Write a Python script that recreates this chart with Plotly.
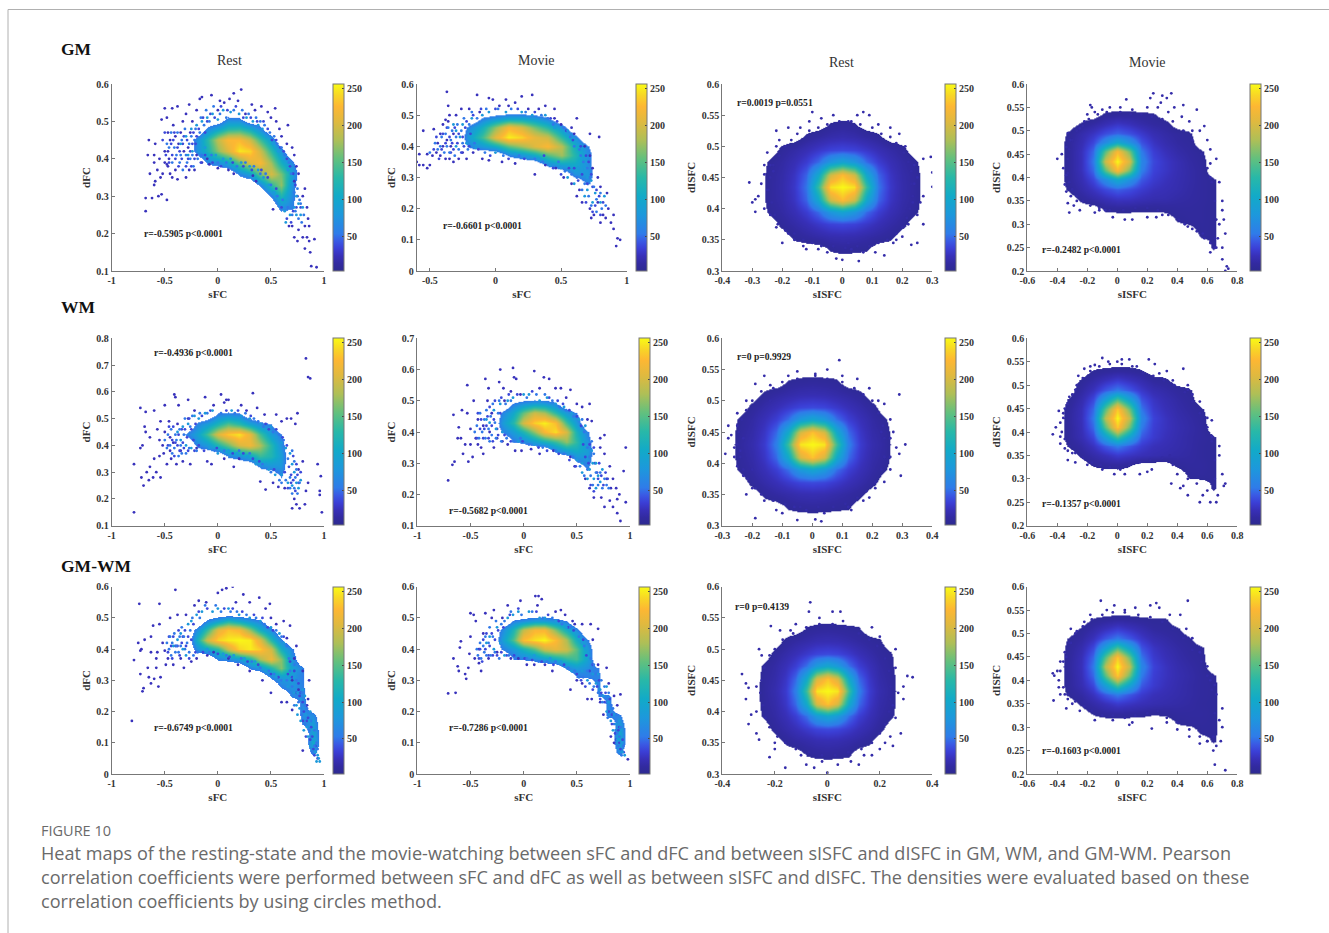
import plotly.graph_objects as go
from plotly.colors import sample_colorscale

W, H = 1329, 933
SERIF = "Liberation Serif"
SANS = "Open Sans"
PARULA = [[0, "#2d2a90"], [.04, "#322aa0"], [.08, "#3830b8"], [.12, "#3b3fd6"], [.16, "#3a5ae4"], [.2, "#2f7ce9"], [.3, "#1d98dc"], [.4, "#12aac8"],
          [.5, "#28b8a8"], [.6, "#62c07e"], [.7, "#aebf57"], [.8, "#e0b93f"], [.88, "#fdb733"], [.94, "#f8d626"], [1, "#f9fb15"]]

# ---------- sFC panels: density grids (rows top to bottom) ----------
P1_X = [-.4, -.3, -.2, -.1, 0, .1, .2, .3, .4, .5, .6, .7, .8]
P1_Y = [.54, .51, .48, .45, .42, .39, .36, .33, .30, .27, .24]
P1_Z = [[0,0,0,0,0,0,0,0,0,0,0,0,0],
        [0,0,0,0,0,55,50,0,0,0,0,0,0],
        [0,0,0,60,95,125,130,105,65,0,0,0,0],
        [0,0,70,125,190,225,225,195,140,85,0,0,0],
        [0,0,70,115,170,205,248,240,195,130,70,0,0],
        [0,0,0,55,70,95,150,205,222,175,110,60,0],
        [0,0,0,0,0,0,60,90,160,200,160,90,0],
        [0,0,0,0,0,0,0,0,60,130,170,70,0],
        [0,0,0,0,0,0,0,0,0,55,120,65,0],
        [0,0,0,0,0,0,0,0,0,0,70,55,0],
        [0,0,0,0,0,0,0,0,0,0,0,0,0]]
P1_OUTER = [(-.68,.26),(-.68,.295),(-.62,.295),(-.56,.3),(-.53,.305),(-.48,.29),(-.6,.33),(-.59,.34),(-.64,.36),(-.66,.41),(-.65,.45),(-.59,.44),(-.6,.41),(-.6,.39),(-.57,.37),(-.55,.4),(-.54,.35),(-.52,.36),(-.5,.39),(-.48,.385),(-.47,.38),(-.46,.4),(-.5,.42),(-.47,.42),(-.45,.36),(-.43,.35),(-.4,.37),(-.38,.345),(-.3,.35),(-.27,.37),(-.22,.37),(-.53,.505),(-.5,.535),(-.43,.535),(-.38,.54),(-.48,.51),(-.47,.47),(-.45,.45),(-.42,.49),(-.4,.46),(-.37,.44),(-.35,.47),(-.33,.5),(-.3,.52),(-.27,.545),(-.32,.42),(-.28,.43),(-.26,.47),(-.24,.5),(-.2,.53),(-.17,.56),(-.15,.565),(-.06,.57),(0,.53),(.02,.555),(.06,.55),(.11,.56),(.15,.575),(.19,.555),(.22,.585),(.26,.52),(.32,.545),(.35,.53),(.41,.54),(.47,.525),(.54,.535),(.5,.51),(.55,.5),(.58,.48),(.66,.49),(.6,.46),(.65,.44),(.7,.43),(.72,.41),(.76,.36),(.74,.38),(.72,.34),(.82,.32),(.8,.3),(.84,.27),(.85,.24),(.82,.22),(.86,.22),(.76,.21),(.72,.19),(.75,.18),(.8,.19),(.84,.19),(.86,.18),(.82,.16),(.87,.15),(.91,.185),(.88,.113),(.93,.11),(.7,.22),(.67,.22),(.52,.265),(.36,.34),(.33,.355),(.15,.36),(.1,.37),(0,.375),(-.08,.385),(-.1,.4),(-.15,.39),(-.2,.41)]
P1_MID = [(-.35,.44),(-.3,.46),(-.28,.41),(-.24,.42),(-.25,.48),(-.2,.49),(-.15,.5),(-.1,.51),(-.05,.52),(0,.505),(.05,.53),(.12,.525),(.2,.52),(.27,.51),(.33,.5),(.38,.49),(.42,.48),(.46,.46),(.52,.44),(.57,.42),(.62,.4),(.66,.37),(.7,.33),(.74,.3),(.76,.28),(.72,.27),(.68,.25),(.63,.26),(.58,.28),(.53,.31),(.48,.33),(.43,.35),(.38,.37),(.3,.38),(.22,.39),(.12,.4),(.05,.4),(-.02,.41),(-.12,.43),(-.18,.42),(.78,.25),(.8,.27),(.74,.25),(.64,.23)]
P1_RIM = [(-.48,.44),(-.46,.43),(-.44,.47),(-.43,.39),(-.41,.43),(-.39,.41),(-.38,.47),(-.36,.39),(-.35,.41),(-.34,.45),(-.33,.37),(-.31,.48),(-.3,.41),(-.29,.39),(-.27,.44),(-.26,.4),(-.25,.46),(-.23,.38),(-.22,.45),(-.21,.48),(-.19,.4),(-.17,.47),(-.16,.51),(-.13,.49),(-.11,.53),(-.08,.5),(-.04,.54),(.02,.52),(.08,.51),(.15,.53),(.23,.53),(.29,.52),(.36,.51),(.4,.5),(.44,.49),(.49,.47),(.53,.46),(.56,.44),(.6,.43),(.63,.41),(.67,.39),(.69,.36),(.72,.31),(.75,.32),(.77,.29),(.73,.26),(.7,.25),(.66,.27),(.61,.29),(.56,.3),(.5,.33),(.45,.36),(.4,.36),(.34,.38),(.26,.39),(.18,.38),(.08,.39),(0,.39),(-.06,.41),(-.15,.41),(-.24,.41),(.79,.23),(.81,.25),(.76,.24),(.78,.28)]
P1_FILL = [(-.52,.45),(-.5,.47),(-.49,.41),(-.46,.39),(-.44,.44),(-.43,.41),(-.42,.45),(-.41,.47),(-.4,.4),(-.38,.43),(-.37,.38),(-.36,.42),(-.34,.4),(-.33,.44),(-.32,.46),(-.3,.38),(-.29,.45),(-.28,.4),(-.26,.42),(-.25,.38),(-.24,.44),(-.23,.47),(-.22,.4),(-.21,.44),(-.2,.46),(-.18,.48),(-.16,.39),(-.14,.51),(-.12,.47),(-.1,.5),(-.07,.52),(-.03,.51),(.03,.54),(.09,.53),(.17,.54),(.24,.51),(.31,.51),(.37,.5),(.43,.5),(.47,.48),(.51,.45),(.55,.45),(.59,.43),(.62,.42),(.65,.4),(.68,.38),(.71,.36),(.73,.33),(.75,.3),(.78,.27),(.74,.27),(.71,.26),(.69,.23),(.65,.24),(.6,.27),(.55,.32),(.47,.35),(.41,.37),(.32,.37),(.24,.38),(.14,.39),(.03,.38),(-.05,.39),(-.12,.41)]

P2_X = [-.3, -.2, -.1, 0, .1, .2, .3, .4, .5, .6, .7, .8]
P2_Y = [.52, .49, .46, .43, .40, .37, .34, .31, .28, .25, .22]
P2_Z = [[0,0,0,0,0,0,0,0,0,0,0,0],
        [0,0,55,75,95,95,80,55,0,0,0,0],
        [0,65,110,170,222,200,160,125,75,0,0,0],
        [0,90,140,210,252,240,210,195,130,70,0,0],
        [0,60,80,105,150,175,205,225,185,110,55,0],
        [0,0,0,0,55,75,100,145,175,125,70,0],
        [0,0,0,0,0,0,0,55,85,100,70,0],
        [0,0,0,0,0,0,0,0,0,70,80,0],
        [0,0,0,0,0,0,0,0,0,0,60,0],
        [0,0,0,0,0,0,0,0,0,0,0,0],
        [0,0,0,0,0,0,0,0,0,0,0,0]]
P2_OUTER = [(-.6,.35),(-.58,.34),(-.55,.34),(-.52,.33),(-.5,.34),(-.58,.375),(-.52,.375),(-.48,.37),(-.45,.38),(-.42,.37),(-.38,.36),(-.35,.36),(-.32,.35),(-.28,.36),(-.55,.45),(-.47,.455),(-.44,.41),(-.42,.44),(-.4,.47),(-.38,.485),(-.36,.48),(-.4,.4),(-.37,.42),(-.34,.4),(-.32,.44),(-.35,.5),(-.37,.575),(-.36,.53),(-.3,.5),(-.26,.52),(-.2,.52),(-.14,.565),(-.12,.51),(-.05,.555),(-.02,.55),(.08,.55),(.15,.54),(.2,.56),(.28,.565),(.03,.53),(.1,.53),(.25,.52),(.33,.52),(.38,.53),(.45,.52),(.45,.49),(.5,.47),(.58,.46),(.62,.49),(.6,.44),(.72,.44),(.79,.43),(.68,.4),(.72,.37),(.74,.33),(.78,.3),(.8,.27),(.85,.25),(.86,.2),(.82,.18),(.84,.17),(.75,.18),(.73,.17),(.8,.155),(.88,.155),(.9,.135),(.92,.08),(.93,.105),(.95,.1),(.62,.24),(.66,.22),(.64,.26),(.58,.28),(.52,.3),(.3,.31),(.38,.34),(.15,.345),(.05,.35),(-.05,.355),(-.1,.36),(-.17,.38),(-.25,.38),(-.22,.36),(.46,.33),(.9,.18),(.72,.2),(.78,.22)]
P2_MID = [(-.3,.45),(-.27,.43),(-.25,.47),(-.22,.41),(-.18,.49),(-.15,.395),(-.1,.5),(-.05,.51),(0,.38),(.08,.51),(.15,.375),(.2,.51),(.25,.365),(.28,.5),(.33,.36),(.38,.5),(.42,.34),(.45,.46),(.5,.33),(.55,.45),(.55,.3),(.62,.42),(.6,.28),(.66,.36),(.68,.33),(.7,.26),(.73,.29),(.76,.25),(.68,.24),(.74,.22),(.8,.22),(.83,.24),(.7,.3),(.63,.33),(-.3,.4),(-.32,.47)]
P2_RIM = [(-.5,.38),(-.46,.41),(-.44,.39),(-.42,.4),(-.41,.43),(-.39,.38),(-.38,.44),(-.37,.4),(-.36,.46),(-.35,.38),(-.34,.42),(-.33,.45),(-.31,.37),(-.3,.43),(-.29,.47),(-.28,.39),(-.26,.45),(-.25,.41),(-.24,.49),(-.21,.39),(-.2,.47),(-.18,.51),(-.16,.41),(-.14,.49),(-.08,.38),(-.07,.52),(.02,.52),(.06,.37),(.12,.52),(.18,.37),(.23,.51),(.3,.36),(.35,.5),(.4,.49),(.36,.35),(.48,.35),(.44,.47),(.52,.46),(.57,.43),(.53,.32),(.6,.4),(.58,.31),(.64,.39),(.65,.37),(.67,.35),(.62,.3),(.7,.33),(.68,.28),(.72,.3),(.66,.26),(.75,.27),(.71,.24),(.77,.23),(.73,.21),(.8,.25),(.81,.2),(.77,.19),(.84,.21)]
P2_FILL = [(-.47,.39),(-.45,.43),(-.43,.36),(-.41,.39),(-.4,.44),(-.38,.41),(-.37,.46),(-.35,.43),(-.34,.38),(-.33,.41),(-.32,.39),(-.31,.46),(-.29,.41),(-.28,.44),(-.26,.38),(-.25,.43),(-.24,.4),(-.23,.46),(-.22,.48),(-.2,.4),(-.19,.44),(-.17,.5),(-.13,.39),(-.11,.52),(-.04,.37),(0,.52),(.1,.36),(.17,.52),(.22,.36),(.3,.51),(.37,.37),(.42,.49),(.47,.48),(.44,.33),(.5,.31),(.54,.45),(.56,.33),(.59,.42),(.6,.33),(.65,.4),(.63,.29),(.66,.31),(.69,.37),(.71,.35),(.73,.31),(.74,.27),(.7,.28),(.77,.26),(.69,.22),(.76,.21),(.79,.24),(.82,.22),(.74,.19),(.8,.18)]

P5_X = [-.4, -.3, -.2, -.1, 0, .1, .2, .3, .4, .5, .6, .7]
P5_Y = [.56, .52, .48, .44, .40, .36, .32, .28, .24]
P5_Z = [[0,0,0,0,0,0,0,0,0,0,0,0],
        [0,0,0,0,50,55,50,0,0,0,0,0],
        [0,0,60,85,120,150,130,95,65,50,0,0],
        [0,55,90,140,205,235,248,210,140,85,50,0],
        [0,0,60,80,120,155,200,215,180,125,70,0],
        [0,0,0,0,0,55,70,95,135,120,85,0],
        [0,0,0,0,0,0,0,0,55,70,75,0],
        [0,0,0,0,0,0,0,0,0,0,50,0],
        [0,0,0,0,0,0,0,0,0,0,0,0]]
P5_OUTER = [(-.79,.15),(-.79,.33),(-.73,.54),(-.73,.39),(-.71,.4),(-.72,.28),(-.7,.25),(-.69,.47),(-.68,.45),(-.68,.525),(-.67,.3),(-.65,.27),(-.64,.32),(-.64,.43),(-.61,.28),(-.6,.35),(-.6,.53),(-.58,.3),(-.57,.46),(-.55,.36),(-.55,.42),(-.54,.49),(-.54,.28),(-.52,.4),(-.51,.37),(-.5,.55),(-.5,.45),(-.48,.33),(-.46,.49),(-.45,.38),(-.45,.43),(-.44,.35),(-.42,.41),(-.41,.59),(-.4,.58),(-.39,.33),(-.38,.48),(-.37,.55),(-.35,.38),(-.33,.34),(-.28,.57),(-.28,.5),(-.26,.33),(-.22,.53),(-.12,.58),(-.1,.34),(-.06,.33),(-.04,.55),(.03,.59),(.06,.56),(.08,.57),(.1,.57),(.33,.595),(.22,.55),(.27,.53),(.37,.54),(.44,.515),(.55,.515),(.6,.49),(.65,.5),(.69,.5),(.75,.52),(.73,.48),(.8,.34),(.76,.31),(.83,.725),(.85,.655),(.87,.65),(.94,.33),(.97,.285),(.96,.23),(.96,.215),(.98,.15),(.7,.165),(.77,.165),(.82,.18),(.85,.26),(.83,.23),(.72,.2),(.74,.18),(.45,.235),(.52,.26),(.57,.245),(.63,.24),(.4,.265),(.15,.32),(.2,.35),(.06,.35),(-.2,.39)]
P5_MID = [(-.38,.45),(-.35,.42),(-.33,.47),(-.3,.4),(-.28,.48),(-.25,.39),(-.22,.51),(-.18,.5),(-.12,.52),(-.08,.39),(-.05,.53),(0,.37),(.1,.38),(.13,.53),(.18,.37),(.22,.51),(.28,.36),(.3,.5),(.36,.33),(.4,.48),(.45,.33),(.5,.47),(.55,.43),(.6,.41),(.64,.39),(.68,.37),(.7,.33),(.72,.3),(.74,.26),(.7,.25),(.66,.26),(.6,.29),(.54,.29),(.48,.31),(.76,.24),(.78,.27)]
P5_RIM = [(-.5,.42),(-.48,.39),(-.47,.44),(-.45,.4),(-.44,.46),(-.43,.37),(-.41,.39),(-.4,.44),(-.39,.42),(-.37,.36),(-.36,.46),(-.35,.4),(-.34,.37),(-.32,.44),(-.31,.5),(-.3,.37),(-.27,.39),(-.26,.47),(-.24,.51),(-.2,.38),(-.17,.52),(-.15,.39),(-.1,.52),(-.03,.38),(.03,.52),(.06,.38),(.16,.52),(.2,.38),(.26,.52),(.3,.37),(.34,.5),(.38,.49),(.42,.33),(.43,.47),(.5,.3),(.52,.45),(.56,.3),(.58,.44),(.62,.42),(.66,.35),(.7,.38),(.72,.34),(.74,.31),(.68,.28),(.64,.27),(.6,.26),(.58,.27),(.72,.24),(.7,.22),(.75,.22),(.68,.24),(.77,.26),(.73,.28)]
P5_FILL = [(-.47,.4),(-.46,.47),(-.43,.42),(-.42,.47),(-.41,.36),(-.4,.41),(-.38,.4),(-.37,.44),(-.36,.38),(-.34,.46),(-.33,.41),(-.32,.39),(-.31,.46),(-.29,.43),(-.28,.38),(-.27,.5),(-.25,.46),(-.23,.42),(-.22,.38),(-.21,.48),(-.18,.4),(-.15,.51),(-.13,.38),(-.07,.53),(-.01,.39),(.08,.53),(.14,.37),(.19,.53),(.24,.37),(.31,.51),(.33,.35),(.39,.34),(.45,.48),(.48,.46),(.53,.31),(.55,.46),(.61,.43),(.63,.3),(.65,.4),(.67,.32),(.69,.29),(.71,.36),(.71,.27),(.73,.23),(.75,.29),(.76,.26),(.66,.24),(.69,.26),(.74,.33),(.78,.3)]

P6_X = [-.3, -.2, -.1, 0, .1, .2, .3, .4, .5, .6, .7]
P6_Y = [.52, .49, .46, .43, .40, .37, .34, .31, .28, .25]
P6_Z = [[0,0,0,0,0,0,0,0,0,0,0],
        [0,0,55,75,90,85,60,0,0,0,0],
        [0,60,100,155,195,180,130,80,50,0,0],
        [0,80,125,200,238,252,228,140,80,0,0],
        [0,55,85,120,170,222,245,200,115,55,0],
        [0,0,50,60,85,110,135,170,130,70,0],
        [0,0,0,0,0,0,60,90,105,85,0],
        [0,0,0,0,0,0,0,0,60,75,0],
        [0,0,0,0,0,0,0,0,0,50,0],
        [0,0,0,0,0,0,0,0,0,0,0]]
P6_OUTER = [(-.71,.245),(-.67,.295),(-.65,.305),(-.66,.455),(-.62,.38),(-.61,.415),(-.59,.38),(-.58,.47),(-.57,.33),(-.55,.36),(-.53,.46),(-.53,.55),(-.52,.305),(-.5,.41),(-.5,.36),(-.48,.32),(-.47,.5),(-.45,.38),(-.43,.36),(-.43,.44),(-.4,.35),(-.38,.33),(-.36,.57),(-.33,.54),(-.34,.5),(-.38,.42),(-.32,.4),(-.3,.46),(-.28,.35),(-.25,.38),(-.22,.6),(-.23,.56),(-.19,.54),(-.18,.5),(-.12,.53),(-.1,.605),(-.09,.575),(-.07,.57),(-.03,.52),(.1,.595),(.19,.575),(.24,.57),(.15,.54),(.3,.54),(.35,.54),(.44,.535),(.4,.51),(.5,.49),(.55,.48),(.62,.49),(.6,.44),(.64,.435),(.72,.38),(.76,.39),(.72,.35),(.76,.33),(.81,.29),(.78,.25),(.84,.25),(.82,.22),(.87,.22),(.9,.2),(.88,.185),(.81,.18),(.84,.16),(.73,.19),(.66,.19),(.76,.16),(.88,.14),(.91,.115),(.94,.275),(.96,.35),(.96,.175),(.62,.22),(.58,.25),(.48,.29),(.44,.32),(.15,.33),(.07,.345),(-.02,.34),(-.08,.34),(-.15,.36),(-.2,.37),(.28,.34)]
P6_MID = [(-.35,.44),(-.32,.43),(-.28,.47),(-.26,.41),(-.22,.49),(-.2,.4),(-.15,.5),(-.1,.51),(-.05,.37),(0,.52),(.05,.52),(.1,.36),(.15,.5),(.22,.51),(.25,.35),(.3,.49),(.38,.48),(.35,.34),(.45,.46),(.42,.33),(.52,.44),(.5,.31),(.58,.42),(.6,.37),(.64,.34),(.65,.3),(.62,.28),(.68,.3),(.55,.3),(.6,.25),(.7,.26),(.72,.24),(.74,.28),(.66,.25),(.68,.22),(.55,.27)]
P6_RIM = [(-.46,.4),(-.44,.42),(-.42,.38),(-.41,.46),(-.39,.4),(-.37,.44),(-.36,.38),(-.35,.47),(-.33,.41),(-.32,.37),(-.31,.45),(-.3,.39),(-.29,.49),(-.27,.43),(-.26,.38),(-.24,.46),(-.23,.5),(-.21,.37),(-.17,.49),(-.16,.38),(-.12,.5),(-.1,.37),(-.03,.38),(.03,.51),(.05,.36),(.12,.52),(.18,.35),(.2,.52),(.27,.5),(.3,.34),(.34,.48),(.4,.47),(.38,.33),(.47,.45),(.46,.32),(.55,.44),(.53,.29),(.57,.4),(.6,.35),(.62,.32),(.64,.37),(.66,.33),(.68,.27),(.57,.26),(.6,.28),(.63,.26),(.65,.23),(.7,.23),(.72,.27),(.76,.25),(.74,.22),(.78,.23),(.8,.22)]
P6_FILL = [(-.44,.38),(-.43,.46),(-.41,.41),(-.4,.44),(-.38,.38),(-.37,.41),(-.35,.42),(-.34,.45),(-.33,.38),(-.32,.48),(-.3,.42),(-.29,.37),(-.28,.44),(-.27,.5),(-.25,.41),(-.24,.39),(-.22,.46),(-.21,.51),(-.18,.39),(-.14,.52),(-.12,.37),(-.06,.52),(-.01,.37),(.08,.53),(.14,.35),(.24,.51),(.22,.34),(.32,.5),(.33,.33),(.37,.49),(.43,.47),(.43,.31),(.5,.45),(.49,.29),(.54,.42),(.56,.36),(.58,.32),(.62,.36),(.61,.3),(.66,.35),(.67,.3),(.69,.27),(.63,.23),(.71,.3),(.7,.25),(.73,.26),(.66,.21),(.75,.23),(.77,.27),(.79,.25)]

P9_X = [-.4, -.3, -.2, -.1, 0, .1, .2, .3, .4, .5, .6, .7, .8, .9, 1.0]
P9_Y = [.52, .49, .46, .43, .40, .37, .34, .31, .28, .25, .22, .19, .16, .13, .10, .07, .04]
P9_Z = [[0,0,0,0,0,0,0,0,0,0,0,0,0,0,0],
        [0,0,0,60,90,120,100,75,55,0,0,0,0,0,0],
        [0,0,70,135,210,232,222,170,110,65,0,0,0,0,0],
        [0,0,110,195,240,250,254,250,205,125,60,0,0,0,0],
        [0,0,70,100,130,195,240,250,235,195,110,55,0,0,0],
        [0,0,0,0,60,65,85,120,180,215,165,75,0,0,0],
        [0,0,0,0,0,0,0,55,75,120,165,90,55,0,0],
        [0,0,0,0,0,0,0,0,0,60,85,80,50,0,0],
        [0,0,0,0,0,0,0,0,0,0,55,75,55,0,0],
        [0,0,0,0,0,0,0,0,0,0,0,60,60,0,0],
        [0,0,0,0,0,0,0,0,0,0,0,0,70,0,0],
        [0,0,0,0,0,0,0,0,0,0,0,0,70,65,0],
        [0,0,0,0,0,0,0,0,0,0,0,0,55,85,0],
        [0,0,0,0,0,0,0,0,0,0,0,0,0,95,0],
        [0,0,0,0,0,0,0,0,0,0,0,0,0,105,0],
        [0,0,0,0,0,0,0,0,0,0,0,0,0,70,0],
        [0,0,0,0,0,0,0,0,0,0,0,0,0,0,0]]
P9_OUTER = [(-.81,.17),(-.79,.365),(-.75,.42),(-.74,.545),(-.73,.395),(-.72,.4),(-.73,.32),(-.71,.265),(-.7,.275),(-.69,.43),(-.66,.34),(-.65,.31),(-.63,.29),(-.63,.39),(-.63,.44),(-.61,.475),(-.6,.305),(-.58,.37),(-.58,.34),(-.57,.39),(-.56,.28),(-.55,.48),(-.55,.545),(-.54,.31),(-.52,.42),(-.5,.395),(-.49,.35),(-.47,.37),(-.45,.5),(-.42,.35),(-.4,.59),(-.38,.51),(-.35,.37),(-.32,.34),(-.3,.51),(-.25,.36),(-.22,.54),(-.2,.37),(-.18,.555),(-.11,.55),(-.1,.38),(-.04,.39),(0,.58),(.04,.59),(.08,.595),(.14,.6),(.17,.55),(.24,.575),(.3,.55),(.39,.565),(.45,.53),(.49,.545),(.5,.5),(.55,.48),(.62,.49),(.68,.475),(.65,.435),(.74,.41),(.72,.37),(.8,.33),(.86,.3),(.85,.24),(.84,.22),(.7,.205),(.65,.23),(.6,.23),(.5,.26),(.42,.3),(.3,.33),(.19,.35),(.1,.37),(.8,.075),(.7,.3),(.76,.27)]
P9_MID = [(.66,.28),(.72,.31),(.75,.26),(.78,.24),(.74,.22),(.8,.27),(.82,.25),(.72,.26),(.77,.21),(.83,.19),(.87,.2),(.75,.19),(.78,.17),(.84,.15),(.81,.14),(.88,.13),(.85,.12),(.9,.11),(.87,.09),(.92,.07),(.94,.06),(.95,.05),(.93,.04),(.96,.04),(.9,.17),(.92,.13),(.86,.17),(-.38,.43),(-.42,.41),(-.35,.45),(-.33,.4),(-.3,.38),(-.28,.48),(-.25,.49),(-.2,.51),(-.15,.52),(-.1,.4),(-.05,.52),(0,.53),(.05,.385),(.1,.53),(.15,.38),(.2,.51),(.25,.37),(.3,.5),(.35,.36),(.4,.49),(.45,.33),(.5,.47),(.55,.31),(.58,.45),(.62,.42),(.68,.39),(.7,.35),(.62,.3)]
P9_RIM = [(-.48,.42),(-.46,.4),(-.45,.44),(-.44,.38),(-.43,.42),(-.41,.45),(-.4,.39),(-.39,.41),(-.37,.39),(-.36,.44),(-.35,.41),(-.34,.47),(-.32,.44),(-.31,.4),(-.29,.42),(-.27,.39),(-.26,.46),(-.24,.5),(-.23,.38),(-.19,.39),(-.17,.5),(-.12,.54),(-.08,.39),(-.02,.54),(.03,.52),(.08,.38),(.12,.52),(.18,.52),(.22,.37),(.27,.51),(.32,.36),(.36,.5),(.4,.34),(.44,.48),(.48,.33),(.53,.32),(.55,.46),(.6,.44),(.6,.3),(.65,.41),(.65,.3),(.67,.37),(.68,.33),(.7,.28),(.72,.35),(.74,.3),(.76,.23),(.79,.26),(.82,.22),(.72,.22),(.79,.19),(.84,.21),(.86,.14),(.82,.16),(.88,.17),(.91,.09),(.89,.07),(.93,.1),(.94,.08),(.91,.14)]
P9_FILL = [(-.47,.39),(-.46,.44),(-.44,.41),(-.43,.37),(-.42,.44),(-.4,.41),(-.38,.41),(-.37,.46),(-.36,.38),(-.34,.42),(-.33,.44),(-.31,.46),(-.3,.41),(-.28,.44),(-.27,.37),(-.25,.43),(-.23,.48),(-.21,.39),(-.18,.52),(-.14,.39),(-.1,.53),(0,.385),(.06,.53),(.14,.53),(.11,.375),(.23,.52),(.28,.36),(.34,.51),(.38,.35),(.42,.5),(.47,.47),(.5,.32),(.52,.46),(.57,.31),(.62,.44),(.68,.36),(.66,.32),(.72,.33),(.7,.31),(.74,.26),(.76,.29),(.78,.26),(.8,.23),(.77,.25),(.81,.2),(.8,.17),(.85,.18),(.84,.17),(.83,.12),(.87,.11),(.88,.15),(.89,.12),(.9,.08),(.92,.09),(.94,.05),(.91,.06)]

P10_X = [-.3, -.2, -.1, 0, .1, .2, .3, .4, .5, .6, .7, .8, .9, 1.0]
P10_Y = [.52, .49, .46, .43, .40, .37, .34, .31, .28, .25, .22, .19, .16, .13, .10, .07, .04]
P10_Z = [[0,0,0,0,0,0,0,0,0,0,0,0,0,0],
         [0,0,55,70,85,85,70,50,0,0,0,0,0,0],
         [0,65,120,190,222,222,165,110,65,0,0,0,0,0],
         [0,85,145,228,245,254,228,180,110,55,0,0,0,0],
         [0,55,80,115,150,195,210,195,150,80,0,0,0,0],
         [0,0,50,55,65,85,105,130,140,90,0,0,0,0],
         [0,0,0,0,0,0,0,60,80,70,50,0,0,0],
         [0,0,0,0,0,0,0,0,50,55,60,0,0,0],
         [0,0,0,0,0,0,0,0,0,0,60,0,0,0],
         [0,0,0,0,0,0,0,0,0,0,50,60,0,0],
         [0,0,0,0,0,0,0,0,0,0,0,70,0,0],
         [0,0,0,0,0,0,0,0,0,0,0,65,55,0],
         [0,0,0,0,0,0,0,0,0,0,0,0,85,0],
         [0,0,0,0,0,0,0,0,0,0,0,0,100,0],
         [0,0,0,0,0,0,0,0,0,0,0,0,95,0],
         [0,0,0,0,0,0,0,0,0,0,0,0,70,0],
         [0,0,0,0,0,0,0,0,0,0,0,0,0,0]]
P10_OUTER = [(-.71,.258),(-.64,.26),(-.66,.37),(-.62,.345),(-.61,.33),(-.59,.425),(-.6,.405),(-.55,.32),(-.54,.305),(-.52,.34),(-.51,.385),(-.5,.515),(-.5,.44),(-.47,.51),(-.46,.37),(-.45,.49),(-.42,.4),(-.42,.355),(-.4,.33),(-.38,.45),(-.36,.515),(-.33,.37),(-.3,.5),(-.28,.525),(-.25,.39),(-.2,.5),(-.15,.54),(-.12,.37),(-.05,.37),(-.03,.555),(.03,.35),(.1,.35),(.11,.57),(.13,.54),(.14,.57),(.17,.56),(.2,.35),(.27,.33),(.3,.52),(.35,.525),(.39,.51),(.46,.49),(.48,.48),(.55,.48),(.63,.48),(.7,.465),(.65,.43),(.7,.35),(.78,.34),(.8,.29),(.85,.25),(.91,.255),(.88,.22),(.44,.27),(.55,.29),(.6,.24),(.64,.24),(.72,.23),(.98,.047),(.82,.12),(.85,.1),(.5,.3),(.75,.19)]
P10_MID = [(-.35,.42),(-.32,.44),(-.28,.4),(-.25,.47),(-.22,.42),(-.18,.38),(-.15,.5),(-.1,.51),(-.05,.52),(0,.38),(.05,.52),(.1,.38),(.15,.5),(.2,.5),(.25,.37),(.3,.49),(.35,.36),(.4,.47),(.45,.33),(.5,.45),(.55,.42),(.58,.4),(.55,.33),(.62,.36),(.6,.3),(.65,.32),(.68,.29),(.7,.32),(.72,.27),(.75,.25),(.78,.28),(.8,.23),(.78,.2),(.82,.17),(.85,.19),(.87,.16),(.84,.14),(.88,.11),(.9,.17),(.92,.14),(.92,.1),(.93,.07),(.95,.06)]
P10_RIM = [(-.44,.4),(-.43,.38),(-.41,.42),(-.4,.37),(-.38,.41),(-.37,.39),(-.36,.44),(-.35,.38),(-.33,.42),(-.32,.47),(-.31,.38),(-.29,.44),(-.27,.39),(-.26,.49),(-.23,.37),(-.21,.48),(-.18,.49),(-.14,.38),(-.12,.52),(-.08,.37),(-.02,.51),(.03,.37),(.08,.52),(.14,.36),(.18,.5),(.22,.36),(.27,.5),(.3,.36),(.36,.48),(.42,.34),(.44,.47),(.48,.33),(.52,.44),(.52,.31),(.57,.41),(.56,.31),(.6,.33),(.62,.29),(.63,.37),(.66,.35),(.66,.28),(.68,.32),(.7,.26),(.73,.3),(.74,.23),(.76,.28),(.78,.24),(.8,.26),(.82,.22),(.79,.18),(.84,.21),(.85,.16),(.87,.19),(.88,.13),(.9,.12),(.91,.15),(.89,.09),(.94,.09),(.92,.06)]
P10_FILL = [(-.42,.37),(-.41,.4),(-.39,.36),(-.38,.43),(-.36,.4),(-.35,.45),(-.33,.38),(-.32,.41),(-.3,.45),(-.29,.38),(-.27,.43),(-.25,.38),(-.24,.46),(-.21,.39),(-.19,.47),(-.16,.38),(-.13,.51),(-.09,.38),(-.05,.53),(.01,.37),(.08,.365),(.12,.52),(.17,.36),(.23,.51),(.28,.35),(.33,.49),(.38,.35),(.42,.47),(.47,.46),(.5,.32),(.54,.3),(.56,.43),(.59,.38),(.58,.28),(.62,.33),(.65,.27),(.65,.35),(.69,.28),(.71,.3),(.73,.26),(.72,.24),(.77,.26),(.76,.23),(.81,.24),(.8,.2),(.83,.19),(.83,.16),(.86,.13),(.87,.11),(.89,.14),(.9,.1),(.91,.08),(.9,.15),(.93,.11),(.94,.07)]

# ---------- sISFC panels ----------
ISFC_X = [-.28, -.24, -.2, -.16, -.12, -.08, -.04, 0, .04, .08, .12, .16, .2, .24, .28]
P3_Y = [.555, .535, .515, .495, .475, .455, .435, .415, .395, .375, .355, .335, .315]
P3_Z = [[0,0,0,0,0,0,0,0,0,0,0,0,0,0,0],
        [0,0,0,0,0,0,6,8,6,0,0,0,0,0,0],
        [0,0,0,0,7,11,15,17,15,11,7,0,0,0,0],
        [0,0,8,13,19,26,32,34,32,26,19,13,8,0,0],
        [0,7,12,19,29,46,76,92,76,46,29,19,12,7,0],
        [0,9,14,24,44,98,195,228,195,98,44,24,14,9,0],
        [0,9,15,26,50,135,245,255,245,135,50,26,15,9,0],
        [0,9,14,24,44,98,195,228,195,98,44,24,14,9,0],
        [0,7,12,19,29,46,76,92,76,46,29,19,12,7,0],
        [0,0,8,13,19,26,32,34,32,26,19,13,8,0,0],
        [0,0,0,7,10,13,16,17,16,13,10,7,0,0,0],
        [0,0,0,0,0,0,6,8,7,6,0,0,0,0,0],
        [0,0,0,0,0,0,0,0,0,0,0,0,0,0,0]]
P3_OUTER = [(-.31,.442),(-.3,.41),(-.29,.395),(-.29,.415),(-.28,.42),(-.27,.44),(-.26,.4),(-.26,.455),(-.26,.47),(-.25,.43),(-.25,.49),(-.23,.46),(-.22,.37),(-.22,.5),(-.22,.525),(-.21,.51),(-.18,.36),(-.18,.53),(-.16,.35),(-.14,.53),(-.13,.34),(-.1,.555),(-.08,.335),(-.07,.545),(-.05,.33),(-.03,.55),(-.02,.32),(0,.318),(.03,.54),(.03,.335),(.05,.55),(.055,.316),(.07,.555),(.07,.33),(.09,.55),(.11,.33),(.14,.325),(.16,.53),(.17,.345),(.19,.52),(.21,.5),(.2,.355),(.22,.375),(.23,.342),(.25,.345),(.27,.375),(.27,.48),(.24,.47),(.25,.45),(.295,.483),(.3,.458),(.3,.435),(.27,.42),(.26,.41),(.25,.39),(.235,.41),(.24,.44),(-.2,.345),(-.12,.335),(.12,.535),(.02,.345),(-.24,.39),(-.24,.47),(.18,.35),(-.11,.54)]
P3_RIM = [(-.245,.43),(-.24,.45),(-.235,.41),(-.23,.47),(-.225,.39),(-.21,.485),(-.215,.375),(-.19,.5),(-.19,.365),(-.17,.51),(-.16,.36),(-.15,.52),(-.13,.35),(-.11,.525),(-.1,.345),(-.08,.53),(-.07,.34),(-.05,.535),(-.03,.34),(-.01,.54),(.01,.337),(.02,.54),(.05,.34),(.06,.535),(.09,.34),(.1,.53),(.12,.345),(.13,.52),(.15,.35),(.16,.515),(.18,.36),(.18,.505),(.2,.37),(.205,.49),(.215,.385),(.22,.475),(.225,.4),(.23,.46),(.235,.42),(.23,.44)]

P7_Y = [.55, .53, .51, .49, .47, .45, .43, .41, .39, .37, .35, .33, .31]
P7_Z = [[0,0,0,0,0,0,0,0,0,0,0,0,0,0,0],
        [0,0,0,0,0,6,8,9,8,7,0,0,0,0,0],
        [0,0,0,7,11,14,17,18,17,14,11,7,0,0,0],
        [0,0,8,14,20,27,33,35,33,27,20,14,8,0,0],
        [0,7,12,20,30,48,80,96,80,48,30,20,12,6,0],
        [0,9,14,25,46,102,200,232,200,102,46,25,14,9,0],
        [0,10,16,28,55,140,248,255,248,140,55,28,16,10,0],
        [0,9,14,25,46,102,200,232,200,102,46,25,14,9,0],
        [0,7,12,20,30,48,80,96,80,48,30,20,12,6,0],
        [0,0,8,14,20,27,33,35,33,27,20,14,8,0,0],
        [0,0,0,7,11,14,17,18,17,14,11,7,0,0,0],
        [0,0,0,0,0,6,8,9,8,7,6,0,0,0,0],
        [0,0,0,0,0,0,0,0,0,0,0,0,0,0,0]]
P7_OUTER = [(-.29,.415),(-.28,.46),(-.28,.44),(-.27,.445),(-.26,.425),(-.26,.41),(-.25,.46),(-.25,.395),(-.25,.48),(-.23,.44),(-.23,.38),(-.22,.5),(-.2,.36),(-.2,.39),(-.19,.527),(-.19,.312),(-.16,.34),(-.16,.54),(-.14,.5),(-.12,.325),(-.1,.32),(-.08,.54),(-.06,.33),(-.05,.547),(-.05,.309),(-.02,.325),(.01,.31),(.01,.543),(.03,.307),(.05,.55),(.04,.32),(.09,.565),(.1,.54),(.13,.325),(.15,.535),(.17,.34),(.19,.345),(.19,.52),(.22,.5),(.24,.37),(.24,.495),(.26,.47),(.26,.39),(.26,.44),(.27,.45),(.28,.425),(.295,.38),(.29,.51),(.31,.43),(.29,.415),(.24,.41),(.26,.41),(-.13,.52),(.12,.33),(-.22,.35),(.21,.36),(-.24,.42),(.23,.45)]
P7_RIM = [(-.25,.43),(-.245,.45),(-.24,.41),(-.235,.47),(-.23,.39),(-.22,.485),(-.215,.375),(-.2,.5),(-.19,.36),(-.17,.515),(-.17,.35),(-.14,.525),(-.13,.34),(-.1,.53),(-.09,.335),(-.05,.535),(-.04,.33),(.01,.54),(.02,.33),(.05,.535),(.07,.33),(.1,.53),(.11,.335),(.14,.52),(.15,.345),(.17,.51),(.18,.355),(.2,.5),(.21,.37),(.22,.48),(.23,.39),(.235,.46),(.24,.41),(.24,.44)]

P11_Y = [.553, .533, .513, .493, .473, .453, .433, .413, .393, .373, .353, .333, .313]
P11_Z = [[0,0,0,0,0,0,0,0,0,0,0,0,0,0,0],
         [0,0,0,0,0,6,8,9,8,7,6,0,0,0,0],
         [0,0,0,7,11,14,17,18,17,14,11,8,6,0,0],
         [0,0,8,14,20,27,33,35,33,27,20,14,9,6,0],
         [0,7,12,20,30,48,80,96,80,48,30,20,12,7,0],
         [0,9,14,25,46,102,200,232,200,102,46,25,14,9,0],
         [0,10,16,28,55,140,248,255,248,140,55,28,16,10,0],
         [0,9,14,25,46,102,200,232,200,102,46,25,14,9,0],
         [0,7,12,20,30,48,80,96,80,48,30,20,12,7,0],
         [0,0,8,14,20,27,33,35,33,27,20,14,8,0,0],
         [0,0,0,7,11,14,17,18,17,14,11,7,0,0,0],
         [0,0,0,0,0,6,8,9,8,7,0,0,0,0,0],
         [0,0,0,0,0,0,0,0,0,0,0,0,0,0,0]]
P11_OUTER = [(-.325,.46),(-.31,.42),(-.31,.445),(-.3,.38),(-.3,.438),(-.29,.395),(-.27,.365),(-.27,.4),(-.26,.355),(-.26,.5),(-.27,.44),(-.25,.49),(-.24,.47),(-.22,.327),(-.215,.537),(-.2,.35),(-.18,.53),(-.16,.31),(-.12,.54),(-.1,.33),(-.08,.315),(-.07,.56),(-.065,.575),(-.05,.31),(-.03,.55),(-.02,.32),(0,.302),(.02,.56),(.05,.56),(.04,.315),(.06,.545),(.09,.32),(.12,.315),(.17,.33),(.17,.535),(.2,.34),(.2,.52),(.24,.36),(.25,.345),(.26,.5),(.26,.47),(.28,.365),(.29,.42),(.27,.43),(.305,.457),(.325,.455),(.29,.44),(.26,.39),(.25,.41),(-.14,.53),(.14,.33),(-.2,.34),(.22,.35)]
P11_RIM = [(-.255,.43),(-.25,.45),(-.245,.41),(-.24,.47),(-.235,.39),(-.22,.49),(-.22,.375),(-.2,.5),(-.19,.36),(-.17,.515),(-.16,.35),(-.13,.525),(-.12,.34),(-.08,.535),(-.07,.335),(-.03,.54),(-.02,.33),(.02,.54),(.03,.33),(.07,.535),(.08,.335),(.12,.525),(.13,.34),(.16,.515),(.17,.35),(.19,.505),(.2,.365),(.22,.485),(.22,.38),(.235,.465),(.235,.4),(.24,.44),(.24,.42)]

TAIL_X = [-.4, -.32, -.24, -.16, -.08, 0, .08, .16, .24, .32, .4, .48, .56, .64, .72]
P4_Y = [.555, .535, .515, .495, .475, .455, .435, .415, .395, .375, .355, .335, .31, .28, .25, .225]
P4_Z = [[0,0,0,0,0,0,0,0,0,0,0,0,0,0,0],
        [0,0,0,0,7,8,8,7,6,0,0,0,0,0,0],
        [0,0,6,11,18,24,20,14,10,8,0,0,0,0,0],
        [0,7,15,24,36,44,37,27,18,13,9,6,0,0,0],
        [0,9,18,34,66,100,72,38,24,16,11,8,0,0,0],
        [0,9,21,46,150,225,160,52,30,21,14,10,6,0,0],
        [0,9,21,52,195,255,200,60,34,25,18,12,8,0,0],
        [0,9,21,46,150,225,160,54,32,25,18,13,9,0,0],
        [0,9,18,34,66,100,72,40,28,22,17,13,9,6,0],
        [0,7,14,23,34,42,36,28,22,19,16,12,9,6,0],
        [0,0,8,14,20,25,24,20,17,16,13,11,9,6,0],
        [0,0,0,0,7,8,8,7,7,8,9,9,8,6,0],
        [0,0,0,0,0,0,0,0,0,0,6,8,8,6,0],
        [0,0,0,0,0,0,0,0,0,0,0,0,7,6,0],
        [0,0,0,0,0,0,0,0,0,0,0,0,0,6,0],
        [0,0,0,0,0,0,0,0,0,0,0,0,0,0,0]]
P4_OUTER = [(-.4,.44),(-.37,.45),(-.36,.42),(-.34,.465),(-.34,.405),(-.35,.385),(-.34,.37),(-.33,.345),(-.32,.325),(-.31,.36),(-.31,.48),(-.29,.34),(-.27,.35),(-.25,.33),(-.33,.495),(-.25,.505),(-.22,.52),(-.2,.535),(-.18,.555),(-.17,.55),(-.15,.54),(-.1,.545),(-.05,.55),(.02,.55),(.06,.567),(.1,.545),(.2,.55),(.22,.57),(.24,.58),(.29,.56),(.3,.575),(.33,.57),(.36,.58),(.38,.55),(.44,.555),(.43,.53),(.48,.52),(.53,.545),(.5,.5),(.55,.5),(.58,.51),(.6,.48),(.62,.46),(.62,.43),(.66,.44),(.62,.4),(.68,.39),(.7,.35),(.7,.33),(.71,.31),(.72,.28),(.7,.25),(.7,.225),(.73,.21),(.74,.205),(.72,.2),(.66,.25),(.65,.25),(.62,.24),(.57,.28),(.5,.29),(.45,.3),(.3,.32),(.26,.315),(.2,.315),(.1,.31),(.05,.31),(-.03,.315),(-.08,.33),(-.15,.325),(.34,.54),(.27,.55),(.67,.27),(.68,.3),(-.12,.33)]
P4_RIM = [(-.33,.44),(-.32,.46),(-.33,.41),(-.32,.39),(-.3,.48),(-.3,.375),(-.27,.5),(-.27,.36),(-.23,.51),(-.23,.35),(-.19,.525),(-.18,.34),(-.13,.535),(-.12,.335),(-.07,.54),(-.05,.33),(.02,.54),(.04,.33),(.09,.535),(.12,.335),(.16,.535),(.2,.335),(.23,.53),(.27,.33),(.3,.525),(.34,.32),(.37,.52),(.41,.31),(.44,.5),(.47,.295),(.5,.48),(.53,.285),(.56,.45),(.58,.27),(.6,.42),(.62,.26),(.63,.39),(.65,.27),(.65,.35),(.66,.31)]

P8_Y = [.55, .53, .51, .49, .47, .45, .43, .41, .39, .37, .35, .33, .31, .28, .25]
P8_Z = [[0,0,0,0,0,0,0,0,0,0,0,0,0,0,0],
        [0,0,0,6,8,10,9,6,0,0,0,0,0,0,0],
        [0,0,6,13,21,28,22,16,9,7,0,0,0,0,0],
        [0,0,11,22,40,52,40,26,17,13,9,6,0,0,0],
        [0,6,16,34,85,140,90,38,24,17,12,8,0,0,0],
        [0,9,20,46,150,235,158,50,28,20,14,10,6,0,0],
        [0,10,21,52,185,255,190,60,32,23,16,12,8,0,0],
        [0,9,20,46,150,235,158,52,30,23,17,13,9,0,0],
        [0,9,18,34,85,140,90,40,28,21,16,12,9,6,0],
        [0,6,12,23,40,52,40,28,21,18,15,12,8,6,0],
        [0,0,7,14,21,28,24,20,17,15,13,11,8,6,0],
        [0,0,0,6,8,9,6,0,0,0,7,9,9,6,0],
        [0,0,0,0,0,0,0,0,0,0,0,7,8,6,0],
        [0,0,0,0,0,0,0,0,0,0,0,0,0,6,0],
        [0,0,0,0,0,0,0,0,0,0,0,0,0,0,0]]
P8_OUTER = [(-.43,.395),(-.41,.41),(-.39,.445),(-.38,.39),(-.38,.375),(-.36,.43),(-.35,.45),(-.35,.365),(-.33,.36),(-.3,.355),(-.32,.475),(-.28,.49),(-.26,.52),(-.22,.535),(-.18,.54),(-.15,.543),(-.1,.558),(-.06,.55),(0,.55),(.03,.555),(.08,.555),(.13,.54),(.21,.555),(.25,.545),(.28,.525),(.33,.53),(.37,.51),(.44,.535),(.47,.5),(.5,.48),(.47,.49),(.55,.465),(.6,.43),(.63,.425),(.63,.39),(.68,.37),(.68,.35),(.7,.31),(.72,.29),(.71,.285),(.67,.265),(.66,.25),(.62,.25),(.55,.25),(.57,.265),(.47,.265),(.42,.28),(.36,.29),(.44,.285),(.23,.32),(.2,.315),(.15,.31),(.05,.31),(-.02,.31),(-.1,.32),(-.2,.33),(-.28,.335),(-.33,.34)]
P8_RIM = [(-.38,.42),(-.37,.4),(-.36,.44),(-.35,.385),(-.33,.46),(-.32,.37),(-.3,.48),(-.28,.355),(-.27,.5),(-.23,.345),(-.23,.515),(-.17,.335),(-.18,.53),(-.11,.33),(-.12,.54),(-.05,.325),(-.05,.545),(.02,.32),(.03,.545),(.08,.33),(.1,.54),(.15,.335),(.17,.525),(.22,.34),(.24,.52),(.3,.345),(.31,.51),(.35,.35),(.38,.5),(.37,.33),(.45,.485),(.4,.31),(.5,.465),(.47,.3),(.55,.44),(.53,.29),(.6,.41),(.6,.275),(.63,.38),(.65,.3),(.65,.34)]

P12_Y = [.55, .53, .51, .49, .47, .45, .43, .41, .39, .37, .35, .33, .31, .29, .27, .25]
P12_Z = [[0,0,0,0,0,0,0,0,0,0,0,0,0,0,0],
         [0,0,0,6,8,10,9,7,6,6,0,0,0,0,0],
         [0,0,6,13,21,28,22,16,10,8,6,0,0,0,0],
         [0,6,11,22,40,52,40,26,17,13,9,6,0,0,0],
         [0,8,16,34,85,140,90,38,24,17,12,8,6,0,0],
         [0,9,20,46,150,235,158,50,28,20,14,10,7,0,0],
         [0,10,21,52,185,255,190,60,32,23,16,12,8,0,0],
         [0,9,20,46,150,235,158,52,30,23,17,13,9,6,0],
         [0,9,18,34,85,140,90,40,28,21,16,12,9,7,0],
         [0,7,12,23,40,52,40,28,21,18,15,12,9,7,0],
         [0,0,7,14,21,28,24,20,17,15,13,11,8,7,0],
         [0,0,0,6,9,10,9,8,6,7,9,9,9,7,0],
         [0,0,0,0,0,0,0,0,0,0,6,8,8,7,0],
         [0,0,0,0,0,0,0,0,0,0,0,0,7,7,0],
         [0,0,0,0,0,0,0,0,0,0,0,0,0,6,0],
         [0,0,0,0,0,0,0,0,0,0,0,0,0,0,0]]
P12_OUTER = [(-.43,.415),(-.42,.41),(-.425,.357),(-.39,.385),(-.38,.37),(-.38,.42),(-.36,.44),(-.34,.45),(-.34,.34),(-.31,.48),(-.3,.35),(-.31,.51),(-.27,.505),(-.22,.525),(-.18,.54),(-.11,.57),(-.07,.55),(-.02,.56),(.05,.55),(.12,.555),(.22,.56),(.26,.565),(.28,.555),(.35,.54),(.42,.54),(.47,.57),(.46,.51),(.5,.49),(.55,.46),(.6,.43),(.62,.4),(.65,.39),(.66,.37),(.7,.34),(.68,.315),(.7,.3),(.69,.27),(.66,.26),(.64,.25),(.65,.22),(.72,.208),(.6,.27),(.55,.265),(.48,.28),(.4,.295),(.33,.31),(.23,.297),(.1,.31),(.08,.305),(-.03,.315),(-.15,.315),(-.25,.335),(-.33,.36),(-.35,.37)]
P12_RIM = [(-.4,.42),(-.39,.4),(-.38,.44),(-.36,.385),(-.35,.46),(-.33,.37),(-.32,.48),(-.28,.355),(-.28,.5),(-.22,.345),(-.23,.515),(-.17,.335),(-.17,.53),(-.1,.325),(-.1,.54),(-.03,.325),(-.03,.545),(.05,.32),(.05,.545),(.12,.325),(.14,.54),(.2,.33),(.22,.535),(.27,.335),(.3,.525),(.33,.32),(.37,.51),(.4,.31),(.44,.49),(.48,.295),(.5,.465),(.55,.28),(.56,.44),(.6,.27),(.6,.41),(.64,.28),(.63,.38),(.65,.33)]

# ---------- ticks and texts ----------
SFC_TICKS = [-1, -.5, 0, .5, 1]
Y_01_06 = [.1, .2, .3, .4, .5, .6]
Y_0_06 = [0, .1, .2, .3, .4, .5, .6]
Y_01_07 = [.1, .2, .3, .4, .5, .6, .7]
Y_01_08 = [.1, .2, .3, .4, .5, .6, .7, .8]
Y_03_06 = [.3, .35, .4, .45, .5, .55, .6]
Y_02_06 = [.2, .25, .3, .35, .4, .45, .5, .55, .6]
X_M4_3 = [-.4, -.3, -.2, -.1, 0, .1, .2, .3]
X_M3_4 = [-.3, -.2, -.1, 0, .1, .2, .3, .4]
X_M4_4 = [-.4, -.2, 0, .2, .4]
X_M6_8 = [-.6, -.4, -.2, 0, .2, .4, .6, .8]
CB_TICKS = [50, 100, 150, 200, 250]
CAPTION = ["Heat maps of the resting-state and the movie-watching between sFC and dFC and between sISFC and dISFC in GM, WM, and GM-WM. Pearson",
           "correlation coefficients were performed between sFC and dFC as well as between sISFC and dISFC. The densities were evaluated based on these",
           "correlation coefficients by using circles method."]


def num(v):
    s = f"{v:.2f}".rstrip("0").rstrip(".")
    return "0" if s in ("-0", "") else s


def transp_scale(t):
    """Parula with everything under value t left see-through (t in z units, 0..256)."""
    f = t / 256
    col = sample_colorscale(PARULA, [f])[0]
    return [[0, "rgba(255,255,255,0)"], [f, "rgba(255,255,255,0)"], [f, col]] + [s for s in PARULA if s[0] > f]


fig = go.Figure()
layout = {}
ann = []
TXT = "#333333"
AX = "#777777"


def panel(i, box, cbx, xr, yr, xt, yt, xname, yname, X, Y, Z, thr, groups, rtext, rpos):
    x0, x1, y0, y1 = box
    sx = "" if i == 1 else str(i)
    common = dict(showgrid=False, zeroline=False, showline=True, linecolor=AX, linewidth=1, ticks="inside",
                  ticklen=3, tickcolor=AX, tickfont=dict(family=SERIF, size=10, color=TXT, weight=700))
    layout["xaxis" + sx] = dict(common, domain=[x0 / W, x1 / W], range=xr, anchor="y" + sx, tickvals=xt,
                                ticktext=[num(v) for v in xt],
                                title=dict(text=xname, standoff=5, font=dict(family=SERIF, size=11, color=TXT, weight=700)))
    layout["yaxis" + sx] = dict(common, domain=[1 - y1 / H, 1 - y0 / H], range=yr, anchor="x" + sx, tickvals=yt,
                                ticktext=[num(v) for v in yt],
                                title=dict(text=yname, standoff=3, font=dict(family=SERIF, size=11, color=TXT, weight=700)))
    fig.add_trace(go.Heatmap(x=X, y=Y[::-1], z=Z[::-1], zsmooth="best", zmin=0, zmax=256, colorscale=transp_scale(thr),
                             showscale=False, hoverinfo="skip", xaxis="x" + sx, yaxis="y" + sx))
    for pts, c in groups:
        fig.add_trace(go.Scatter(x=[p[0] for p in pts], y=[p[1] for p in pts], mode="markers", hoverinfo="skip",
                                 showlegend=False, xaxis="x" + sx, yaxis="y" + sx,
                                 marker=dict(size=2.8, color=[c] * len(pts), cmin=0, cmax=256, colorscale=PARULA, line=dict(width=0))))
    # colour bar carrier
    fig.add_trace(go.Scatter(x=[None], y=[None], mode="markers", hoverinfo="skip", showlegend=False, xaxis="x" + sx, yaxis="y" + sx,
                             marker=dict(color=[3], cmin=3, cmax=256, colorscale=PARULA, showscale=True,
                                         colorbar=dict(x=cbx / W, xanchor="left", y=1 - y0 / H, yanchor="top", thicknessmode="pixels",
                                                       thickness=11, lenmode="pixels", len=y1 - y0, xpad=0, ypad=0,
                                                       outlinecolor=AX, outlinewidth=1, ticks="inside", ticklen=2, tickcolor="#444444",
                                                       tickvals=CB_TICKS, ticktext=[str(v) for v in CB_TICKS],
                                                       tickfont=dict(family=SERIF, size=10, color=TXT, weight=700)))))
    ann.append(dict(xref="paper", yref="paper", x=rpos[0] / W, y=1 - rpos[1] / H, text=rtext, showarrow=False, xanchor="left", yanchor="middle",
                    xshift=-2, font=dict(family=SERIF, size=9.6, color="#222222", weight=700)))


def sfc(o, m, r, f):
    return [(o, 22), (f, 34), (r, 50), (m, 78)]


def isfc(o, r):
    return [(o, 14), (r, 12)]


R1 = (84, 271)
R2 = (338.3, 525.7)
R3 = (586.7, 774)
T = 50
panel(1, (111.7, 324, *R1), 333.3, [-1, 1], [.1, .6], SFC_TICKS, Y_01_06, "sFC", "dFC", P1_X, P1_Y, P1_Z, T, sfc(P1_OUTER, P1_MID, P1_RIM, P1_FILL), "r=-0.5905 p&lt;0.0001", (144, 234))
panel(2, (416.7, 626.7, *R1), 635.7, [-.6, 1], [0, .6], SFC_TICKS[1:], Y_0_06, "sFC", "dFC", P2_X, P2_Y, P2_Z, T, sfc(P2_OUTER, P2_MID, P2_RIM, P2_FILL), "r=-0.6601 p&lt;0.0001", (443, 225))
panel(3, (722.3, 932.3, *R1), 945.3, [-.4, .3], [.3, .6], X_M4_3, Y_03_06, "sISFC", "dISFC", ISFC_X, P3_Y, P3_Z, 5, isfc(P3_OUTER, P3_RIM), "r=0.0019 p=0.0551", (737, 103))
panel(4, (1027.3, 1237.3, *R1), 1250.3, [-.6, .8], [.2, .6], X_M6_8, Y_02_06, "sISFC", "dISFC", TAIL_X, P4_Y, P4_Z, 5, isfc(P4_OUTER, P4_RIM), "r=-0.2482 p&lt;0.0001", (1042, 249))
panel(5, (111.7, 324, *R2), 333.3, [-1, 1], [.1, .8], SFC_TICKS, Y_01_08, "sFC", "dFC", P5_X, P5_Y, P5_Z, T, sfc(P5_OUTER, P5_MID, P5_RIM, P5_FILL), "r=-0.4936 p&lt;0.0001", (154, 352))
panel(6, (417.3, 630, *R2), 638.7, [-1, 1], [.1, .7], SFC_TICKS, Y_01_07, "sFC", "dFC", P6_X, P6_Y, P6_Z, T, sfc(P6_OUTER, P6_MID, P6_RIM, P6_FILL), "r=-0.5682 p&lt;0.0001", (449, 510))
panel(7, (722.3, 932.3, *R2), 945.3, [-.3, .4], [.3, .6], X_M3_4, Y_03_06, "sISFC", "dISFC", ISFC_X, P7_Y, P7_Z, 5, isfc(P7_OUTER, P7_RIM), "r=0 p=0.9929", (737, 357))
panel(8, (1027.3, 1237.3, *R2), 1250.3, [-.6, .8], [.2, .6], X_M6_8, Y_02_06, "sISFC", "dISFC", TAIL_X, P8_Y, P8_Z, 5, isfc(P8_OUTER, P8_RIM), "r=-0.1357 p&lt;0.0001", (1042, 503))
panel(9, (111.7, 324, *R3), 333.3, [-1, 1], [0, .6], SFC_TICKS, Y_0_06, "sFC", "dFC", P9_X, P9_Y, P9_Z, T, sfc(P9_OUTER, P9_MID, P9_RIM, P9_FILL), "r=-0.6749 p&lt;0.0001", (154, 727))
panel(10, (417.3, 630, *R3), 638.7, [-1, 1], [0, .6], SFC_TICKS, Y_0_06, "sFC", "dFC", P10_X, P10_Y, P10_Z, T, sfc(P10_OUTER, P10_MID, P10_RIM, P10_FILL), "r=-0.7286 p&lt;0.0001", (449, 727))
panel(11, (722.3, 932.3, *R3), 945.3, [-.4, .4], [.3, .6], X_M4_4, Y_03_06, "sISFC", "dISFC", ISFC_X, P11_Y, P11_Z, 5, isfc(P11_OUTER, P11_RIM), "r=0 p=0.4139", (735, 606))
panel(12, (1027.3, 1237.3, *R3), 1250.3, [-.6, .8], [.2, .6], X_M6_8, Y_02_06, "sISFC", "dISFC", TAIL_X, P12_Y, P12_Z, 5, isfc(P12_OUTER, P12_RIM), "r=-0.1603 p&lt;0.0001", (1042, 750))


def label(x, y, text, fam, size, color, anchor="left", weight=400, shift=-2):
    ann.append(dict(xref="paper", yref="paper", x=x / W, y=1 - y / H, text=text, showarrow=False, xanchor=anchor, yanchor="middle",
                    xshift=shift, font=dict(family=fam, size=size, color=color, weight=weight)))


for cx, cy, t in [(229, 60, "Rest"), (536, 60, "Movie"), (841, 63, "Rest"), (1147, 63, "Movie")]:
    label(cx, cy, t, SERIF, 14, "#333333", "center", shift=0)
for cy, t in [(49, "GM"), (307, "WM"), (566, "GM-WM")]:
    label(61, cy, t, SERIF, 17.5, "#111111", weight=700)
label(41, 830, "FIGURE 10", SANS, 14.5, "#6a6a6a")
for cy, t in zip((853, 877, 901), CAPTION):
    label(41, cy, t, SANS, 18.1, "#6a6a6a")

layout.update(width=W, height=H, margin=dict(l=0, r=0, t=0, b=0, autoexpand=False), paper_bgcolor="white", plot_bgcolor="white",
              showlegend=False, annotations=ann,
              shapes=[dict(type="line", xref="paper", yref="paper", x0=8 / W, x1=1, y0=1 - 9.5 / H, y1=1 - 9.5 / H, line=dict(color="#b0b0b0", width=1)),
                      dict(type="line", xref="paper", yref="paper", x0=8 / W, x1=8 / W, y0=0, y1=1 - 9.5 / H, line=dict(color="#b0b0b0", width=1))])
fig.update_layout(**layout)
fig.write_html("out.html", config={"displayModeBar": False},
               post_script="document.body.style.margin='0';document.body.style.overflow='hidden';")
